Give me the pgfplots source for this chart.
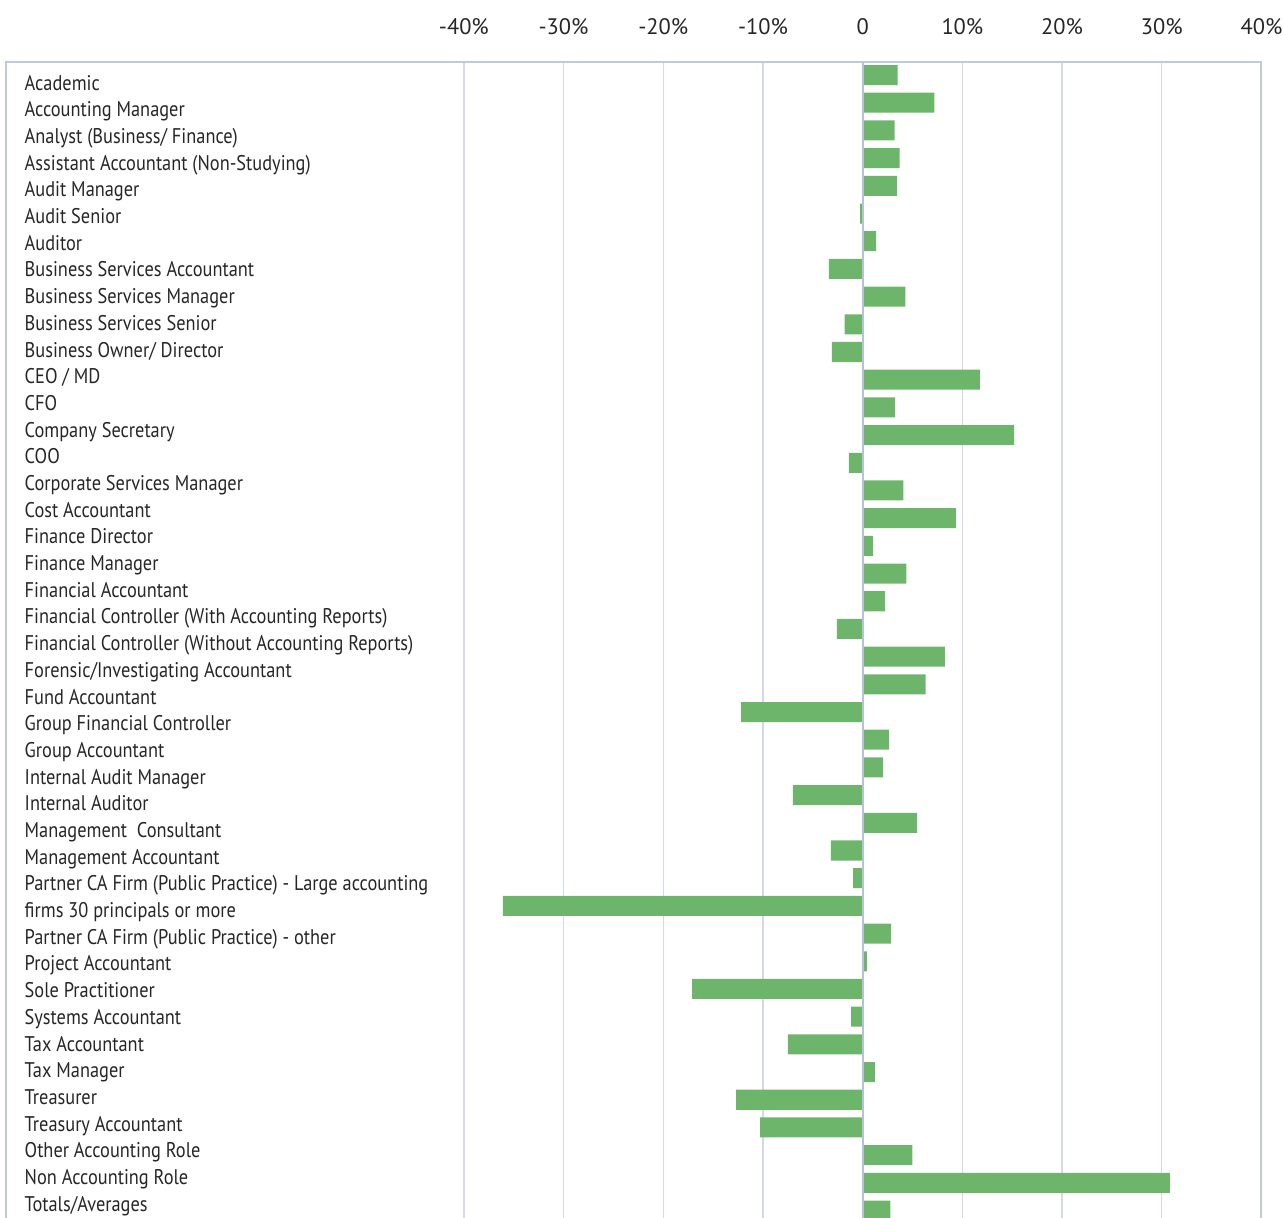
\documentclass[border=0pt]{standalone}
\usepackage{pgfplots}
\pgfplotsset{compat=1.18}
\usepackage{fontspec}
\setmainfont{PT Sans}
\newfontfamily\labelfont{PT Sans}[FakeStretch=0.865]
\definecolor{barg}{HTML}{6EB56C}
\definecolor{gridc}{HTML}{D3D9E6}
\definecolor{framec}{HTML}{C0CADC}
\definecolor{zeroc}{HTML}{B8C2D6}
\begin{document}
\begin{tikzpicture}
\begin{axis}[
 scale only axis, width=627pt, height=582pt,
 xmin=-85.9, xmax=40, ymin=-41.6, ymax=0.47,
 axis line style={framec, line width=1pt},
 xtick={-40,-30,...,40},
 xticklabels={-40\%,-30\%,-20\%,-10\%,0,10\%,20\%,30\%,40\%},
 xticklabel pos=right,
 xmajorgrids, grid style={gridc, line width=0.65pt},
 major tick length=0pt,
 xticklabel style={font=\fontsize{11.2}{13}\selectfont, anchor=base, inner sep=0pt, yshift=14pt, text=black!85},
 ytick={-0.542,-1.5059,...,-41.1},
 yticklabels={Academic,Accounting Manager,Analyst (Business/ Finance),Assistant Accountant (Non-Studying),Audit Manager,Audit Senior,Auditor,Business Services Accountant,Business Services Manager,Business Services Senior,Business Owner/ Director,CEO / MD,CFO,Company Secretary,COO,Corporate Services Manager,Cost Accountant,Finance Director,Finance Manager,Financial Accountant,Financial Controller (With Accounting Reports),Financial Controller (Without Accounting Reports),Forensic/Investigating Accountant,Fund Accountant,Group Financial Controller,Group Accountant,Internal Audit Manager,Internal Auditor,Management~ Consultant,Management Accountant,Partner CA Firm (Public Practice) - Large accounting,firms 30 principals or more,Partner CA Firm (Public Practice) - other,Project Accountant,Sole Practitioner,Systems Accountant,Tax Accountant,Tax Manager,Treasurer,Treasury Accountant,Other Accounting Role,Non Accounting Role,Totals/Averages},
 yticklabel style={font=\labelfont\fontsize{10.6}{12}\selectfont, anchor=base west, inner sep=0pt, xshift=9pt, text=black!85},
 xbar, bar width=10pt,
]
\addplot[fill=barg, draw=none] coordinates {
(3.5,0) (7.2,-1) (3.2,-2) (3.7,-3) (3.45,-4) (-0.27,-5) (1.35,-6) (-3.4,-7)
(4.28,-8) (-1.8,-9) (-3.1,-10) (11.75,-11) (3.25,-12) (15.2,-13) (-1.38,-14)
(4.08,-15) (9.35,-16) (1.04,-17) (4.38,-18) (2.26,-19) (-2.6,-20) (8.24,-21)
(6.3,-22) (-12.2,-23) (2.66,-24) (2.05,-25) (-7.0,-26) (5.45,-27) (-3.2,-28)
(-0.97,-29) (-36.1,-30) (2.84,-31) (0.43,-32) (-17.1,-33) (-1.17,-34) (-7.5,-35)
(1.23,-36) (-12.7,-37) (-10.3,-38) (4.98,-39) (30.8,-40) (2.78,-41)
};
\draw[zeroc, line width=0.85pt] (axis cs:0,0.47) -- (axis cs:0,-41.6);
\coordinate (bbtl) at (axis cs:-86.53,2.71);
\coordinate (bbbr) at (axis cs:42.16,-41.24);
\end{axis}
\pgfresetboundingbox
\useasboundingbox (bbtl) rectangle (bbbr);
\end{tikzpicture}
\end{document}
